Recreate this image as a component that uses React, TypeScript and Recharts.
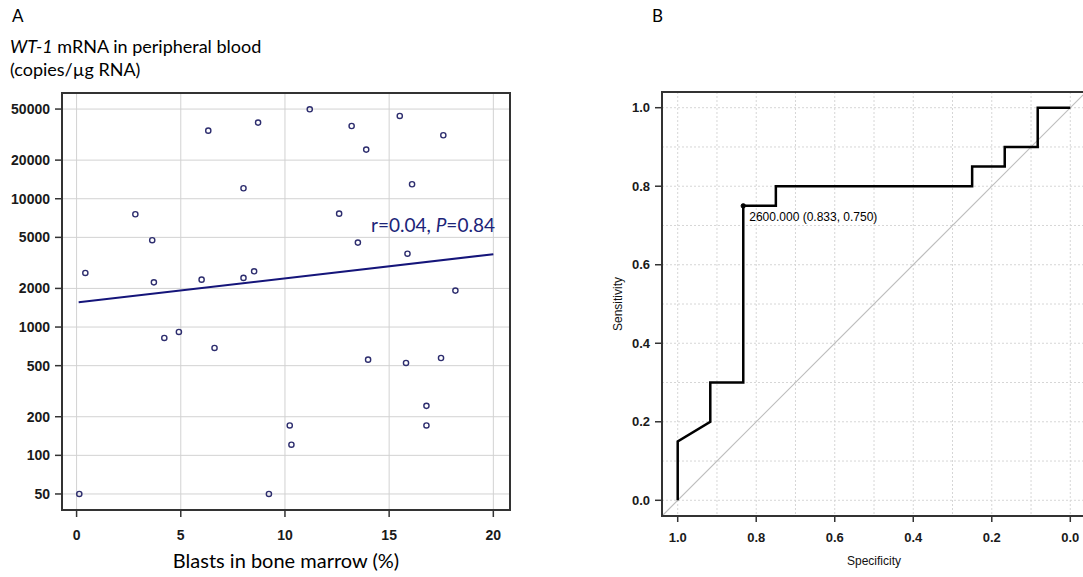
import React from 'react';
import {
  ComposedChart,
  Scatter,
  Line,
  XAxis,
  YAxis,
  CartesianGrid,
  ReferenceLine,
  ReferenceArea,
  ReferenceDot,
} from 'recharts';

// ---------- Panel A data ----------
const blastsPct = [
  0.42, 2.82, 3.63, 3.71, 6.32, 6.0, 8.01, 8.01, 8.52, 8.71, 11.19, 12.6, 13.2, 13.5, 13.9, 15.51,
  15.88, 16.1, 17.6, 18.18, 4.21, 4.91, 6.62, 13.99, 15.81, 17.49, 16.79, 16.79, 10.23, 10.31, 9.23, 0.13,
];
const wt1Copies = [
  2640, 7570, 4750, 2230, 33950, 2340, 12070, 2415, 2720, 39200, 49800, 7650, 36900, 4550, 24150, 44200,
  3730, 12970, 31250, 1923, 822, 916, 687, 557, 525, 574, 243, 171, 171, 121, 50, 50,
];
const regressionX = [0.1, 20];
const regressionY = [1560, 3700];
const xTicksA = [0, 5, 10, 15, 20];
const yTicksA = [50, 100, 200, 500, 1000, 2000, 5000, 10000, 20000, 50000];
const xDomainA: [number, number] = [-0.7, 20.8];
const yDomainA: [number, number] = [37.5, 66700];

// ---------- Panel B data ----------
const rocSpecificity = [1, 1, 0.917, 0.917, 0.833, 0.833, 0.75, 0.75, 0.25, 0.25, 0.167, 0.167, 0.083, 0.083, 0];
const rocSensitivity = [0, 0.15, 0.2, 0.3, 0.3, 0.75, 0.75, 0.8, 0.8, 0.85, 0.85, 0.9, 0.9, 1, 1];
const ticksB = [0, 0.2, 0.4, 0.6, 0.8, 1.0];
const gridB = [0, 0.1, 0.2, 0.3, 0.4, 0.5, 0.6, 0.7, 0.8, 0.9, 1.0];
const domainB: [number, number] = [-0.04, 1.04];
const cutoff = { spec: 0.833, sens: 0.75, label: '2600.000 (0.833, 0.750)' };

const scatterData = blastsPct.map((x, i) => ({ x, y: wt1Copies[i] }));
const rocData = rocSpecificity.map((spec, i) => ({ spec, sens: rocSensitivity[i] }));

const ARIAL = '"Liberation Sans", Arial, sans-serif';
const LATO = 'Lato, "Open Sans", sans-serif';
const NAVY = '#1c2478';

const OpenCircle = (props: any) => {
  const { cx, cy } = props;
  if (cx == null || cy == null) return <g />;
  return <circle cx={cx} cy={cy} r={2.6} fill="none" stroke="#2d2d6e" strokeWidth={1.4} />;
};

const tickStyleA = { fontFamily: ARIAL, fontSize: 14, fill: '#1a1a1a', fontWeight: 'bold' as const };
const tickStyleB = { fontFamily: ARIAL, fontSize: 13, fill: '#1a1a1a', fontWeight: 'bold' as const };

export default function App() {
  return (
    <div
      style={{
        position: 'absolute',
        left: 0,
        top: 0,
        width: 1083,
        height: 577,
        overflow: 'hidden',
        background: '#fff',
      }}
    >
      {/* Panel labels / titles */}
      <div style={{ position: 'absolute', left: 12, top: 5, fontFamily: LATO, fontSize: 17, color: '#000' }}>A</div>
      <div
        style={{
          position: 'absolute',
          left: 10,
          top: 35,
          fontFamily: LATO,
          fontSize: 18,
          lineHeight: '23px',
          color: '#000',
          whiteSpace: 'nowrap',
        }}
      >
        <div>
          <i>WT-1</i> mRNA in peripheral blood
        </div>
        <div>(copies/µg RNA)</div>
      </div>
      <div style={{ position: 'absolute', left: 652, top: 5, fontFamily: LATO, fontSize: 17, color: '#000' }}>B</div>

      {/* Panel A */}
      <div style={{ position: 'absolute', left: 0, top: 0 }}>
        <ComposedChart width={540} height={577} margin={{ top: 93, right: 30, bottom: 0, left: 0 }}>
          <CartesianGrid stroke="#d2d2d2" strokeWidth={1} />
          <XAxis
            type="number"
            dataKey="x"
            domain={xDomainA}
            ticks={xTicksA}
            allowDataOverflow
            height={67}
            tickSize={7}
            tickMargin={13}
            stroke="#333"
            axisLine={{ stroke: '#333', strokeWidth: 2 }}
            tickLine={{ stroke: '#333', strokeWidth: 1.5 }}
            tick={tickStyleA}
            label={{
              value: 'Blasts in bone marrow (%)',
              position: 'insideBottom',
              offset: 9,
              style: { fontFamily: LATO, fontSize: 20, fill: '#000' },
            }}
          />
          <YAxis
            type="number"
            dataKey="y"
            scale="log"
            domain={yDomainA}
            ticks={yTicksA}
            allowDataOverflow
            width={62}
            tickSize={7}
            tickMargin={5}
            axisLine={{ stroke: '#333', strokeWidth: 2 }}
            tickLine={{ stroke: '#333', strokeWidth: 1.5 }}
            tick={tickStyleA}
          />
          <ReferenceLine
            segment={[
              { x: regressionX[0], y: regressionY[0] },
              { x: regressionX[1], y: regressionY[1] },
            ]}
            stroke="#15157a"
            strokeWidth={2}
          />
          <Scatter data={scatterData} shape={OpenCircle} isAnimationActive={false} />
          <ReferenceArea
            x1={xDomainA[0]}
            x2={xDomainA[1]}
            y1={yDomainA[0]}
            y2={yDomainA[1]}
            fill="none"
            fillOpacity={0}
            stroke="#333"
            strokeWidth={2}
          />
        </ComposedChart>
      </div>
      <div
        style={{
          position: 'absolute',
          left: 371,
          top: 213,
          fontFamily: LATO,
          fontSize: 19,
          color: NAVY,
          whiteSpace: 'nowrap',
        }}
      >
        r=0.04, <i>P</i>=0.84
      </div>

      {/* Panel B */}
      <div style={{ position: 'absolute', left: 600, top: 0 }}>
        <ComposedChart width={500} height={577} data={rocData} margin={{ top: 92, right: 14, bottom: 0, left: 0 }}>
          <CartesianGrid
            stroke="#d6d6d6"
            strokeDasharray="2 2"
            horizontalValues={gridB}
            verticalValues={gridB}
          />
          <XAxis
            type="number"
            dataKey="spec"
            domain={domainB}
            reversed
            ticks={ticksB}
            allowDataOverflow
            height={61}
            tickSize={6}
            tickMargin={11}
            tickFormatter={(v: number) => v.toFixed(1)}
            axisLine={{ stroke: '#333', strokeWidth: 2 }}
            tickLine={{ stroke: '#333', strokeWidth: 1.5 }}
            tick={tickStyleB}
            label={{
              value: 'Specificity',
              position: 'insideBottom',
              offset: 12,
              style: { fontFamily: ARIAL, fontSize: 12, fill: '#111' },
            }}
          />
          <YAxis
            type="number"
            dataKey="sens"
            domain={domainB}
            ticks={ticksB}
            allowDataOverflow
            width={62}
            tickSize={7}
            tickMargin={5}
            tickFormatter={(v: number) => v.toFixed(1)}
            axisLine={{ stroke: '#333', strokeWidth: 2 }}
            tickLine={{ stroke: '#333', strokeWidth: 1.5 }}
            tick={tickStyleB}
            label={{
              content: (props: any) => {
                const vb = props.viewBox || { x: 0, y: 0, width: 62, height: 424 };
                const cx = vb.x + 18;
                const cy = vb.y + vb.height / 2;
                return (
                  <text
                    x={cx}
                    y={cy}
                    transform={`rotate(-90 ${cx} ${cy})`}
                    textAnchor="middle"
                    dominantBaseline="central"
                    fontFamily={ARIAL}
                    fontSize={12}
                    fill="#111"
                  >
                    Sensitivity
                  </text>
                );
              },
            }}
          />
          <ReferenceLine
            segment={[
              { x: domainB[1], y: domainB[0] },
              { x: domainB[0], y: domainB[1] },
            ]}
            stroke="#bdbdbd"
            strokeWidth={1.2}
          />
          <Line
            type="linear"
            dataKey="sens"
            stroke="#000"
            strokeWidth={2.5}
            dot={false}
            activeDot={false}
            isAnimationActive={false}
          />
          <ReferenceDot
            x={cutoff.spec}
            y={cutoff.sens}
            r={2.2}
            fill="#000"
            stroke="#000"
            label={{
              content: (props: any) => {
                const vb = props.viewBox || { x: 0, y: 0, width: 0, height: 0 };
                const x = vb.x + vb.width / 2 + 6;
                const y = vb.y + vb.height / 2 + 15;
                return (
                  <text x={x} y={y} fontFamily={ARIAL} fontSize={12} fill="#000">
                    {cutoff.label}
                  </text>
                );
              },
            }}
          />
          <ReferenceArea
            x1={domainB[0]}
            x2={domainB[1]}
            y1={domainB[0]}
            y2={domainB[1]}
            fill="none"
            fillOpacity={0}
            stroke="#333"
            strokeWidth={2}
          />
        </ComposedChart>
      </div>
    </div>
  );
}
